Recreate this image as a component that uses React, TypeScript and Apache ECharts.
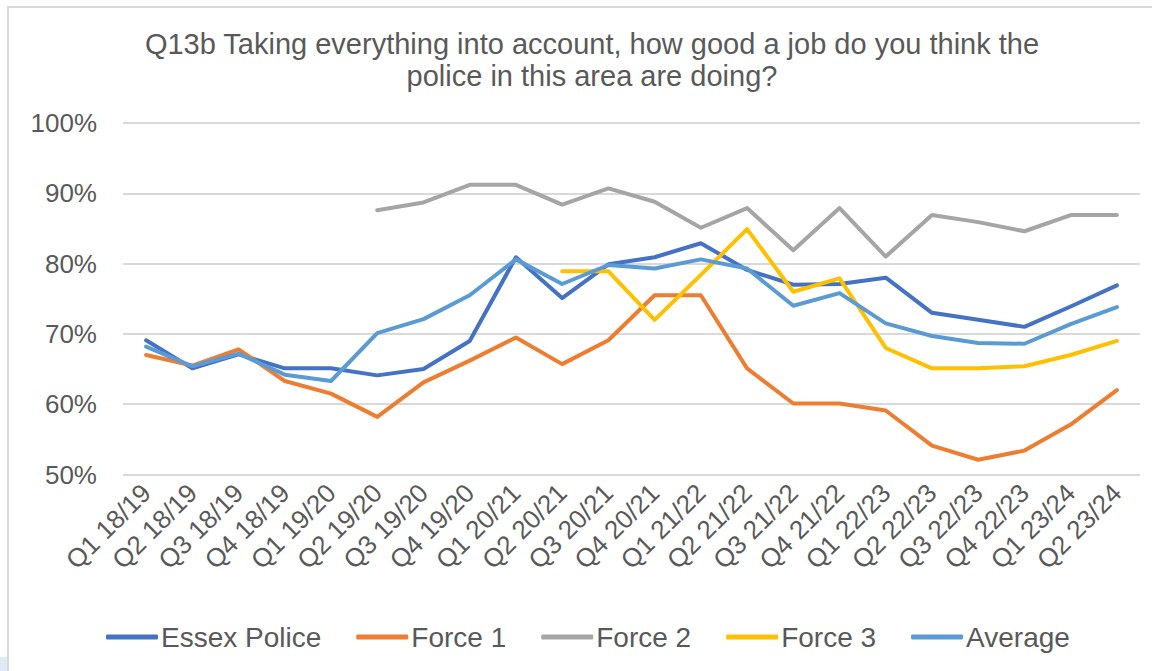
import React, { useEffect, useRef } from "react";
import * as echarts from "echarts";

const quarters = [
  "Q1 18/19", "Q2 18/19", "Q3 18/19", "Q4 18/19",
  "Q1 19/20", "Q2 19/20", "Q3 19/20", "Q4 19/20",
  "Q1 20/21", "Q2 20/21", "Q3 20/21", "Q4 20/21",
  "Q1 21/22", "Q2 21/22", "Q3 21/22", "Q4 21/22",
  "Q1 22/23", "Q2 22/23", "Q3 22/23", "Q4 22/23",
  "Q1 23/24", "Q2 23/24",
];

const essexPolice = [
  69.1, 65.1, 67.1, 65.1, 65.1, 64.1, 65.0, 69.0, 80.9, 75.1, 79.9,
  80.9, 82.9, 79.1, 77.0, 77.1, 78.0, 73.0, 72.0, 71.0, 73.9, 76.9,
];

const force1 = [
  67.0, 65.5, 67.8, 63.3, 61.5, 58.2, 63.1, 66.2, 69.5, 65.7, 69.1,
  75.5, 75.5, 65.1, 60.1, 60.1, 59.1, 54.1, 52.1, 53.4, 57.1, 62.0,
];

const force2 = [
  null, null, null, null, null, 87.6, 88.7, 91.2, 91.2, 88.4, 90.7,
  88.8, 85.1, 87.9, 81.9, 87.9, 81.0, 86.9, 85.9, 84.6, 86.9, 86.9,
];

const force3 = [
  null, null, null, null, null, null, null, null, null, 78.9, 78.9,
  72.0, 78.4, 84.9, 76.0, 77.9, 68.0, 65.1, 65.1, 65.4, 67.0, 69.0,
];

const average = [
  68.2, 65.4, 67.2, 64.2, 63.3, 70.1, 72.1, 75.5, 80.6, 77.1, 79.8,
  79.3, 80.6, 79.3, 74.0, 75.8, 71.5, 69.7, 68.7, 68.6, 71.4, 73.8,
];

const yTicks = { min: 50, max: 100, step: 10 };

const titleText =
  "Q13b Taking everything into account, how good a job do you think the\npolice in this area are doing?";

const fontFamily = "'Liberation Sans', Arial, sans-serif";
const textColor = "#595959";

export default function App() {
  const ref = useRef<HTMLDivElement>(null);

  useEffect(() => {
    if (!ref.current) return;
    const chart = echarts.init(ref.current, undefined, { renderer: "svg" });

    const line = (name: string, data: (number | null)[], color: string) => ({
      name,
      type: "line",
      data,
      symbol: "none",
      connectNulls: false,
      lineStyle: { color, width: 4, cap: "round", join: "round" },
      itemStyle: { color },
    });

    chart.setOption({
      animation: false,
      backgroundColor: "#ffffff",
      textStyle: { fontFamily },
      graphic: [
        {
          type: "rect",
          shape: { x: 8, y: 7, width: 1160, height: 680 },
          style: { fill: "none", stroke: "#d9d9d9", lineWidth: 2 },
          silent: true,
        },
        {
          type: "rect",
          shape: { x: 0, y: 657, width: 7, height: 14 },
          style: { fill: "#deebf7" },
          silent: true,
        },
      ],
      title: {
        text: titleText,
        left: 587,
        top: 23,
        textAlign: "center",
        textStyle: {
          fontFamily,
          fontSize: 29,
          fontWeight: "normal",
          color: textColor,
          lineHeight: 32,
        },
      },
      legend: {
        left: 101,
        top: 618,
        icon: "roundRect",
        itemWidth: 52,
        itemHeight: 5,
        itemGap: 35,
        textStyle: { fontFamily, fontSize: 28, color: textColor, padding: [0, 0, 0, -2] },
        data: ["Essex Police", "Force 1", "Force 2", "Force 3", "Average"],
      },
      grid: { left: 123, right: 12, top: 123, bottom: 196.5, containLabel: false },
      xAxis: {
        type: "category",
        data: quarters,
        boundaryGap: true,
        axisLine: { show: false },
        axisTick: { show: false },
        axisLabel: {
          rotate: 45,
          interval: 0,
          fontFamily,
          fontSize: 26,
          color: textColor,
          margin: 14,
        },
      },
      yAxis: {
        type: "value",
        min: yTicks.min,
        max: yTicks.max,
        interval: yTicks.step,
        axisLine: { show: false },
        axisTick: { show: false },
        axisLabel: {
          formatter: "{value}%",
          fontFamily,
          fontSize: 26,
          color: textColor,
          margin: 26,
        },
        splitLine: { lineStyle: { color: "#d9d9d9", width: 2 } },
      },
      series: [
        line("Essex Police", essexPolice, "#4472c4"),
        line("Force 1", force1, "#ed7d31"),
        line("Force 2", force2, "#a5a5a5"),
        line("Force 3", force3, "#ffc000"),
        line("Average", average, "#5b9bd5"),
      ],
    });

    return () => chart.dispose();
  }, []);

  return (
    <div
      ref={ref}
      style={{ position: "fixed", left: 0, top: 0, width: 1152, height: 671 }}
    />
  );
}
